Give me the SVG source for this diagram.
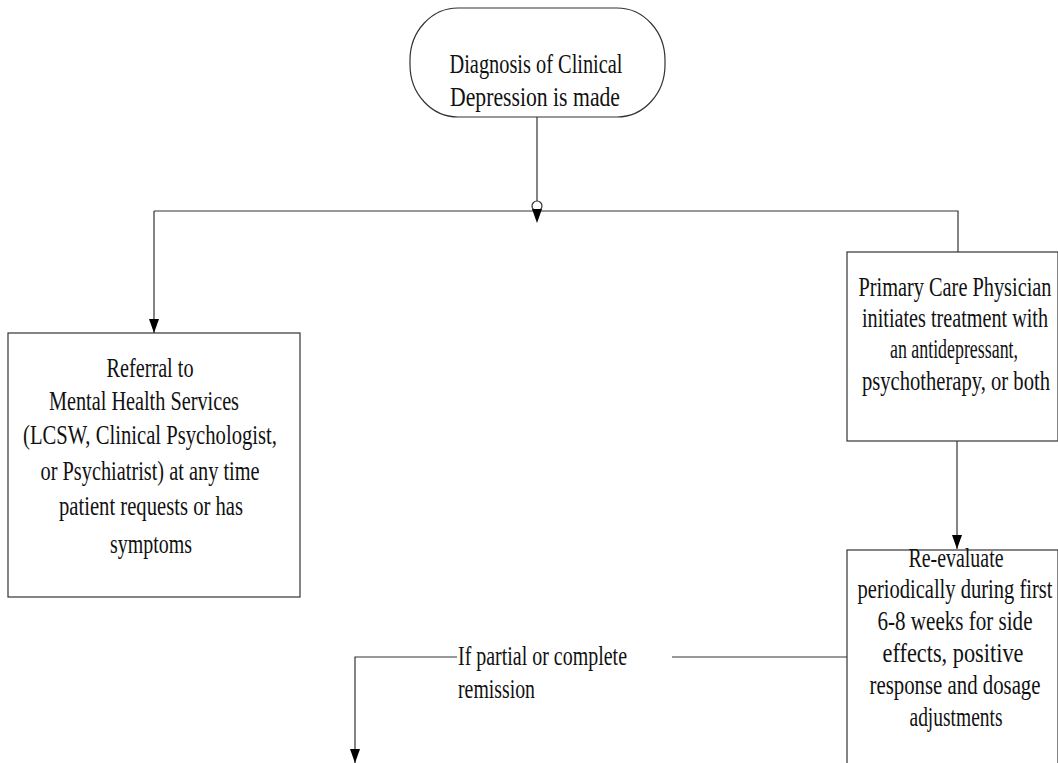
<svg xmlns="http://www.w3.org/2000/svg" width="1058" height="763" viewBox="0 0 1058 763">
<style>
.node{fill:#fff;stroke:#333;stroke-width:1.2}
.t{font-family:"Liberation Serif","Times New Roman",serif;font-size:27px;fill:#111}
.c{text-anchor:middle}
.ln{fill:none;stroke:#333;stroke-width:1.2}
</style>
<defs>
<marker id="arr" viewBox="0 0 14 10" refX="14" refY="5" markerWidth="14" markerHeight="10" markerUnits="userSpaceOnUse" orient="auto">
<path d="M0,0 L14,5 L0,10 Z" fill="#000"/>
</marker>
</defs>
<rect width="1058" height="763" fill="#fff"/>
<g id="connectors">
<path class="ln" d="M537,117 V210"/>
<path class="ln" d="M154,211 H958 V252"/>
<path class="ln" d="M154,211 V333" marker-end="url(#arr)"/>
<circle cx="537" cy="206" r="5" fill="#fff" stroke="#333" stroke-width="1.2"/>
<path d="M532,209 L542,209 L537,223 Z" fill="#000"/>
<path class="ln" d="M957,441 V549" marker-end="url(#arr)"/>
<path class="ln" d="M847,657 H672"/>
<path class="ln" d="M457,657 H355 V763" marker-end="url(#arr)"/>
</g>
<g id="n-diagnosis">
<rect class="node" x="410" y="8" width="255" height="109" rx="48" ry="52"/>
<text class="t c" x="536" y="73" textLength="173" lengthAdjust="spacingAndGlyphs">Diagnosis of Clinical</text>
<text class="t c" x="535" y="106" textLength="170" lengthAdjust="spacingAndGlyphs">Depression is made</text>
</g>
<g id="n-referral">
<rect class="node" x="8" y="333" width="292" height="264"/>
<text class="t c" x="150" y="377" textLength="87" lengthAdjust="spacingAndGlyphs">Referral to</text>
<text class="t c" x="144" y="410" textLength="190" lengthAdjust="spacingAndGlyphs">Mental Health Services</text>
<text class="t c" x="150" y="444" textLength="254" lengthAdjust="spacingAndGlyphs">(LCSW, Clinical Psychologist,</text>
<text class="t c" x="150" y="480" textLength="219" lengthAdjust="spacingAndGlyphs">or Psychiatrist) at any time</text>
<text class="t c" x="151" y="515" textLength="184" lengthAdjust="spacingAndGlyphs">patient requests or has</text>
<text class="t c" x="151" y="553" textLength="82" lengthAdjust="spacingAndGlyphs">symptoms</text>
</g>
<g id="n-pcp">
<rect class="node" x="847" y="252" width="211" height="189"/>
<text class="t c" x="955" y="296" textLength="193" lengthAdjust="spacingAndGlyphs">Primary Care Physician</text>
<text class="t c" x="955" y="327" textLength="186" lengthAdjust="spacingAndGlyphs">initiates treatment with</text>
<text class="t c" x="954" y="358" textLength="128" lengthAdjust="spacingAndGlyphs">an antidepressant,</text>
<text class="t c" x="956" y="390" textLength="188" lengthAdjust="spacingAndGlyphs">psychotherapy, or both</text>
</g>
<g id="n-reevaluate">
<rect class="node" x="847" y="550" width="211" height="240"/>
<text class="t c" x="956" y="567" textLength="95" lengthAdjust="spacingAndGlyphs">Re-evaluate</text>
<text class="t c" x="955" y="598" textLength="195" lengthAdjust="spacingAndGlyphs">periodically during first</text>
<text class="t c" x="955" y="630" textLength="155" lengthAdjust="spacingAndGlyphs">6-8 weeks for side</text>
<text class="t c" x="953" y="662" textLength="141" lengthAdjust="spacingAndGlyphs">effects, positive</text>
<text class="t c" x="955" y="694" textLength="171" lengthAdjust="spacingAndGlyphs">response and dosage</text>
<text class="t c" x="956" y="726" textLength="93" lengthAdjust="spacingAndGlyphs">adjustments</text>
</g>
<g id="label-remission">
<text class="t" x="458" y="665" textLength="169" lengthAdjust="spacingAndGlyphs">If partial or complete</text>
<text class="t" x="458" y="698" textLength="77" lengthAdjust="spacingAndGlyphs">remission</text>
</g>
</svg>
